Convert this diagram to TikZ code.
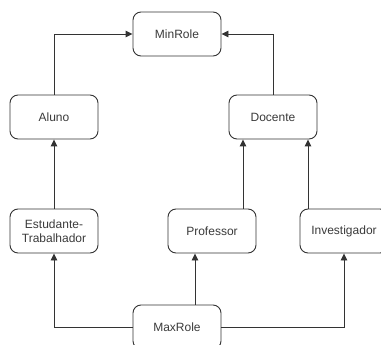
\documentclass[tikz,border=0pt]{standalone}
\usepackage{fontspec}
\setmainfont{Liberation Sans}
\usetikzlibrary{arrows.meta}
\definecolor{edgegray}{HTML}{333333}
\definecolor{txtgray}{HTML}{3A3A3A}
\begin{document}
\begin{tikzpicture}[x=1pt,y=-1pt,
  role/.style={draw=edgegray, line width=0.9pt, rounded corners=8pt,
    minimum width=88pt, minimum height=44pt, align=center,
    font=\fontsize{12}{14}\selectfont, text=txtgray, inner sep=2pt},
  arr/.style={draw=edgegray, line width=0.9pt, -{Triangle[length=7pt,width=6.5pt]}}]
\useasboundingbox (0,0) rectangle (381,345);
\node[role] (minrole) at (177,34) {MinRole};
\node[role] (aluno) at (54,117) {Aluno};
\node[role] (docente) at (273,117) {Docente};
\node[role] (estud) at (54,231) {Estudante-\\Trabalhador};
\node[role] (prof) at (212,231) {Professor};
\node[role] (invest) at (344,231) {Investigador};
\node[role] (maxrole) at (177,327) {MaxRole};
% upward links into MinRole
\draw[arr] (aluno.north) |- (minrole.west);
\draw[arr] (docente.north) |- (minrole.east);
% middle level
\draw[arr] (estud.north) -- (aluno.south);
\draw[arr] ([xshift=31pt]prof.north) -- ([xshift=31pt]prof.north |- docente.south);
\draw[arr] ([xshift=-36pt]invest.north) -- ([xshift=-36pt]invest.north |- docente.south);
% links out of MaxRole
\draw[arr] (maxrole.west) -| (estud.south);
\draw[arr] ([xshift=18pt]maxrole.north) -- ([xshift=18pt]maxrole.north |- prof.south);
\draw[arr] (maxrole.east) -| (invest.south);
\end{tikzpicture}
\end{document}
